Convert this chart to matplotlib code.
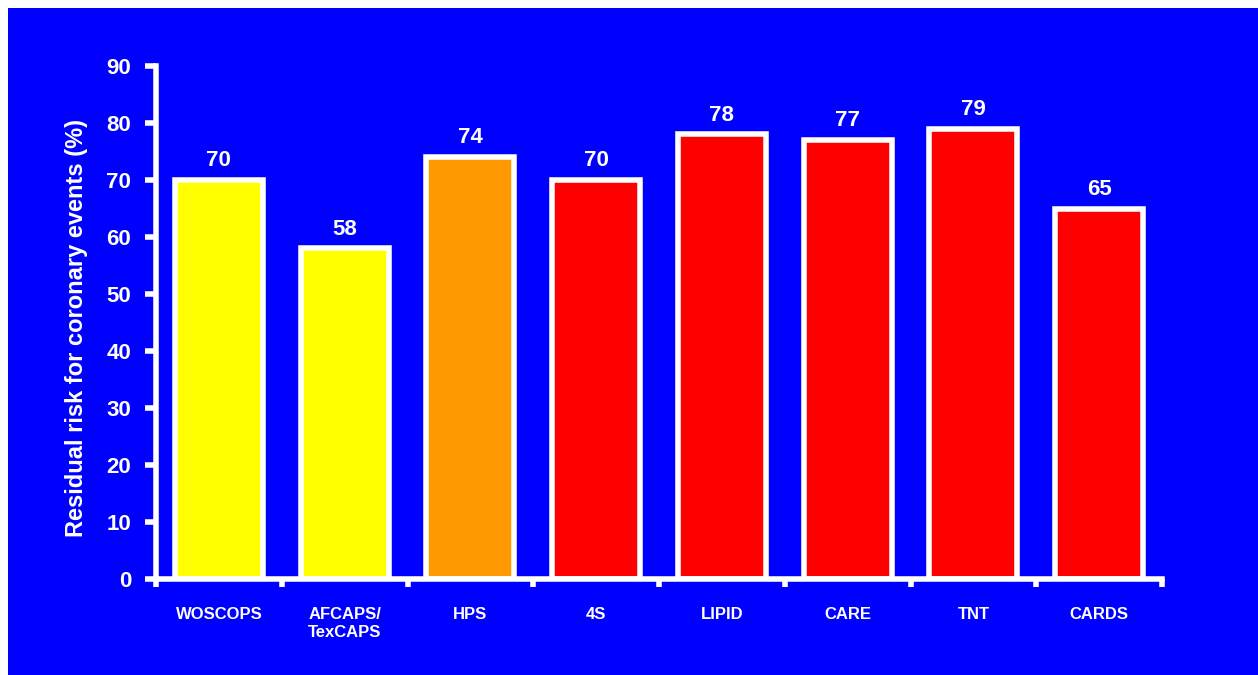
#!/usr/bin/env python3
"""Residual coronary risk in statin trials, bar chart on a blue slide."""
import matplotlib
matplotlib.use('Agg')
import matplotlib.pyplot as plt
from matplotlib.patches import Rectangle

# Data
TRIALS = ['WOSCOPS', 'AFCAPS/\nTexCAPS', 'HPS', '4S', 'LIPID', 'CARE', 'TNT', 'CARDS']
RESIDUAL_RISK = [70, 58, 74, 70, 78, 77, 79, 65]
BAR_COLORS = ['#FFFF00', '#FFFF00', '#FF9900', '#FF0000',
              '#FF0000', '#FF0000', '#FF0000', '#FF0000']
Y_TICKS = [0, 10, 20, 30, 40, 50, 60, 70, 80, 90]

# Style
COLOR_BG = '#0000FF'
COLOR_FG = '#FFFFFF'
FONT = 'Liberation Sans'

plt.rcParams['font.family'] = [FONT, 'DejaVu Sans']
plt.rcParams['font.weight'] = 'bold'

W, H = 1258, 675
fig = plt.figure(figsize=(W / 100, H / 100), dpi=100)
fig.patch.set_facecolor('white')
fig.patches.append(Rectangle((8 / W, 0), 1 - 8 / W, 1 - 8 / H,
                             transform=fig.transFigure, facecolor=COLOR_BG,
                             edgecolor='none', zorder=-10))

ax = fig.add_axes([156 / W, 1 - 579 / H, (1162 - 156) / W, (579 - 66) / H])
ax.set_facecolor('none')

x = list(range(len(TRIALS)))
bars = ax.bar(x, RESIDUAL_RISK, width=0.7, color=BAR_COLORS,
              edgecolor=COLOR_FG, linewidth=4)

for xi, val in zip(x, RESIDUAL_RISK):
    ax.annotate(f'{val}', (xi, val), xytext=(0, 10), textcoords='offset points',
                ha='center', va='baseline', color=COLOR_FG,
                fontsize=16, fontweight='bold')

ax.set_xlim(-0.5, len(TRIALS) - 0.5)
ax.set_ylim(0, 90)

# major x ticks at category boundaries, labels on minor ticks at centres
ax.set_xticks([i - 0.5 for i in range(len(TRIALS) + 1)])
ax.set_xticklabels([])
ax.set_xticks(x, minor=True)
ax.set_xticklabels(TRIALS, minor=True, fontsize=12, fontweight='bold',
                   color=COLOR_FG, linespacing=1.25)
ax.tick_params(axis='x', which='major', direction='out', length=6, width=4,
               color=COLOR_FG)
ax.tick_params(axis='x', which='minor', length=0, pad=20)

ax.set_yticks(Y_TICKS)
ax.set_yticklabels([str(v) for v in Y_TICKS], fontsize=16, fontweight='bold',
                   color=COLOR_FG)
ax.tick_params(axis='y', direction='out', length=8, width=4, color=COLOR_FG,
               pad=10)

for side in ('top', 'right'):
    ax.spines[side].set_visible(False)
for side in ('left', 'bottom'):
    ax.spines[side].set_color(COLOR_FG)
    ax.spines[side].set_linewidth(4)

fig.text(77 / W, 1 - 328 / H, 'Residual risk for coronary events (%)',
         rotation=90, ha='center', va='center', color=COLOR_FG,
         fontsize=17, fontweight='bold')

fig.savefig('out.png', dpi=100, facecolor=fig.get_facecolor())
plt.close(fig)
